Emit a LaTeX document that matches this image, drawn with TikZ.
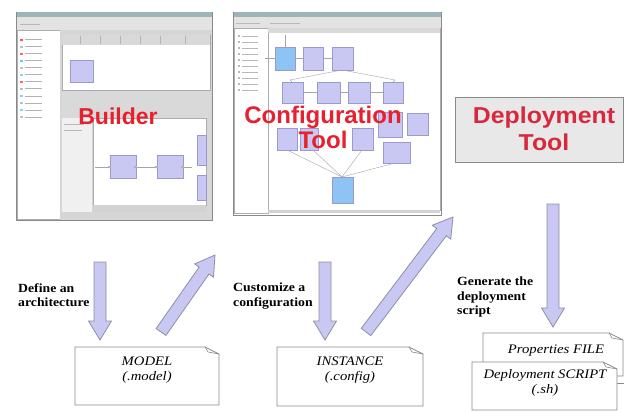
\documentclass[tikz,border=0pt]{standalone}
\usepackage{fontspec}
\setmainfont{Liberation Serif}
\newfontfamily\arialf{Liberation Sans}
\newfontfamily\arialwide[FakeStretch=1.08]{Liberation Sans}
\newfontfamily\lblfont[FakeStretch=1.1]{Liberation Serif}
\newfontfamily\notefont[FakeStretch=1.13]{Liberation Serif}
\usetikzlibrary{calc}
\definecolor{lav}{HTML}{C8C8F2}
\definecolor{lavd}{HTML}{9A9AD0}
\definecolor{arrowedge}{HTML}{8E8EA8}
\definecolor{skyb}{HTML}{8EC4F4}
\definecolor{redt}{HTML}{E8202E}
\definecolor{deptred}{HTML}{D8283E}
\definecolor{winedge}{HTML}{8A8A8A}
\definecolor{titlebar}{HTML}{9DB4B8}
\definecolor{panelgray}{HTML}{D6D6D6}
\tikzset{
  barrow/.style={draw=arrowedge, fill=lav, line width=0.8pt, line join=miter},
  win/.style={draw=winedge, fill=white, line width=0.8pt},
  gpanel/.style={draw=winedge!70, fill=panelgray, line width=0.4pt},
  wpanel/.style={draw=winedge!70, fill=white, line width=0.4pt},
  blk/.style={draw=lavd, fill=lav, line width=0.4pt},
  bblk/.style={draw=lavd, fill=skyb, line width=0.4pt},
  thinl/.style={draw=gray!70, line width=0.4pt},
  treeitem/.style={draw=gray!60, line width=1pt},
  bigred/.style={text=redt, font=\arialf\bfseries\fontsize{23}{26}\selectfont, inner sep=0pt, align=center},
  lbl/.style={font=\lblfont\bfseries\fontsize{12.5}{14.5}\selectfont, align=left, inner sep=0pt, anchor=north west},
  notetext/.style={font=\notefont\itshape\fontsize{13}{15}\selectfont, align=center, inner sep=0pt},
  notebox/.style={draw=winedge, fill=white, line width=0.8pt}
}
\newcommand\blockarr[3]{%
  \coordinate (#3b) at ($(#2)!19pt!(#1)$);
  \draw[barrow] ($(#1)!6pt!90:(#2)$) -- ($(#3b)!6pt!90:(#2)$) -- ($(#3b)!11.5pt!90:(#2)$) -- (#2)
    -- ($(#3b)!11.5pt!-90:(#2)$) -- ($(#3b)!6pt!-90:(#2)$) -- ($(#1)!6pt!-90:(#2)$) -- cycle;}
\newcommand\notepoly[4]{% x1 y1 x2 y2
  \draw[notebox] (#1,#2) -- (#3-14,#2) -- (#3,#2+7) -- (#3,#4) -- (#1,#4) -- cycle;
  \draw[winedge, line width=0.6pt] (#3-14,#2) -- (#3-11,#2+5) -- (#3,#2+7);}
\begin{document}
\begin{tikzpicture}[x=1pt,y=-1pt]
\useasboundingbox (0,0) rectangle (624,412);
\fill[white] (0,0) rectangle (624,412);

% ================= Builder window =================
\draw[win] (16,12) rectangle (212,220);
\fill[titlebar] (16.5,12.5) rectangle (211.5,17);
\fill[gray!22] (16.5,17) rectangle (211.5,30);
\draw[gray!55, line width=0.5pt] (20,24) -- (40,24);
\draw[wpanel] (17,30) rectangle (60,219);
\foreach \yy/\cc in {40/red!70,47/gray!50,54/red!60,61/cyan!60,68/gray!50,75/cyan!50,82/red!60,89/gray!50,96/cyan!50,103/gray!50,110/cyan!50,117/gray!50}{
  \fill[\cc] (20,\yy-1) rectangle (23,\yy+1);
  \draw[treeitem] (25,\yy) -- (42,\yy);
}
\fill[panelgray] (60,30) rectangle (211.5,219.5);
\draw[wpanel] (62,35) rectangle (210,90);
\fill[gray!30] (62.2,35.2) rectangle (209.8,45);
\foreach \xx in {80,100,120,140,160,185}{\draw[gray!60, line width=0.4pt] (\xx,36) -- (\xx,44);}
\draw[blk] (70,60) rectangle (93,82);
\fill[gray!30] (62,92) rectangle (210,118);
\fill[gray!12] (62,118) rectangle (92,212);
\draw[gray!55, line width=0.8pt] (64,124) -- (84,124) (64,130) -- (82,130);
\draw[wpanel] (93,118) rectangle (206,205);
\fill[gray!35] (93,205) rectangle (206,212);
\draw[thinl] (95,167) -- (110,167) (136,167) -- (157,167) (183,167) -- (192,167);
\draw[blk] (110,155) rectangle (136,178);
\draw[blk] (157,155) rectangle (183,178);
\draw[blk] (197,135) rectangle (206,165);
\draw[blk] (197,175) rectangle (206,200);
\fill[gray!60] (108,166) rectangle (111,168) (134,166) rectangle (137,168) (155,166) rectangle (158,168) (181,166) rectangle (184,168);
\node[bigred] (builder) at (118,116) {Builder};

% ================= Configuration window =================
\draw[win] (233,12) rectangle (441,215);
\fill[titlebar] (233.5,12.5) rectangle (440.5,17);
\fill[gray!22] (233.5,17) rectangle (440.5,28);
\draw[gray!55, line width=0.5pt] (236,23) -- (260,23) (270,23) -- (300,23);
\draw[wpanel] (234,28) rectangle (268,213);
\foreach \yy in {36,42,48,54,60,66,72,78,84,90}{
  \fill[gray!55] (238,\yy-1) rectangle (240,\yy+1);
  \draw[gray!55, line width=0.8pt] (242,\yy) -- (258,\yy);
}
\draw[wpanel] (268,28) rectangle (440,210);
\fill[gray!30] (268.2,28.2) rectangle (439.8,33);
\fill[gray!35] (268.2,210) rectangle (439.8,213);
% connection lines
\draw[thinl] (285,35) -- (285,47) (265,58) -- (275,58) (295,58) -- (303,58) (323,58) -- (332,58);
\draw[thinl] (342,70) -- (290,80) (342,70) -- (395,80) (290,80) -- (292,82) (395,80) -- (393,82);
\draw[thinl] (287,150) -- (342,177) (395,163) -- (342,177) (313,150) -- (342,177) (362,150) -- (342,177);
\draw[thinl] (303,92) -- (317,92) (340,92) -- (348,92) (370,92) -- (383,92);
% blocks
\draw[bblk] (275,47) rectangle (295,70);
\draw[blk] (303,47) rectangle (323,70);
\draw[blk] (332,47) rectangle (353,70);
\draw[blk] (282,82) rectangle (303,103);
\draw[blk] (317,82) rectangle (340,103);
\draw[blk] (348,82) rectangle (370,103);
\draw[blk] (383,82) rectangle (403,103);
\draw[blk] (277,128) rectangle (297,150);
\draw[blk] (300,128) rectangle (318,150);
\draw[blk] (352,128) rectangle (373,150);
\draw[blk] (378,112) rectangle (402,137);
\draw[blk] (407,113) rectangle (428,135);
\draw[blk] (383,142) rectangle (410,163);
\draw[bblk] (332,177) rectangle (353,203);
\node[bigred, font=\arialf\bfseries\fontsize{24}{26}\selectfont] (config) at (323,127) {Configuration\\[-1pt]Tool};

% ================= Deployment tool =================
\node[draw=winedge, fill=gray!18, line width=0.8pt, minimum width=168pt, minimum height=65pt, inner sep=0pt] (dtool) at (539,129.5) {};
\node[bigred, text=deptred, font=\arialwide\bfseries\fontsize{23}{27}\selectfont] (dtooltext) at (544,129) {Deployment\\Tool};

% ================= Labels =================
\node[lbl] (lab1) at (18,283) {Define an\\architecture};
\node[lbl] (lab2) at (233,283) {Customize a\\configuration};
\node[lbl] (lab3) at (457,277) {Generate the\\deployment\\script};

% ================= Notes =================
\notepoly{75}{347}{219}{405}
\node[notetext] (model) at (147,370) {MODEL\\(.model)};
\notepoly{277}{347}{423}{406}
\node[notetext] (inst) at (350,370) {INSTANCE\\(.config)};
\draw[winedge, line width=0.8pt] (617,383) -- (624,383);
\notepoly{483}{333}{623}{376}
\node[notetext] (props) at (556,351) {Properties FILE};
\notepoly{472}{362}{617}{410}
\node[notetext] (script) at (545,383) {Deployment SCRIPT\\(.sh)};

% ================= Block arrows =================
\coordinate (a1t) at (100,262); \coordinate (a1h) at (100,340);
\blockarr{a1t}{a1h}{a1}
\coordinate (d1t) at (161,332); \coordinate (d1h) at (215,255);
\blockarr{d1t}{d1h}{d1}
\coordinate (a2t) at (325,262); \coordinate (a2h) at (325,340);
\blockarr{a2t}{a2h}{a2}
\coordinate (d2t) at (366,332); \coordinate (d2h) at (453,217);
\blockarr{d2t}{d2h}{d2}
\coordinate (a3t) at (553,204); \coordinate (a3h) at (553,327);
\blockarr{a3t}{a3h}{a3}
\end{tikzpicture}
\end{document}
